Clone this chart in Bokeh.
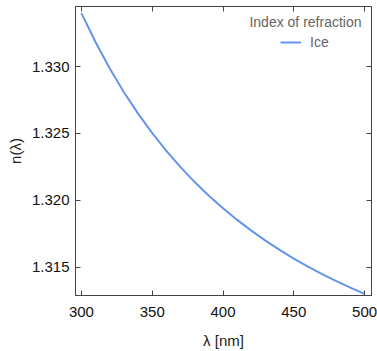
from bokeh.plotting import figure
from bokeh.models import (Range1d, LinearAxis, Legend, LegendItem, Label,
                          NumeralTickFormatter, CustomLabelingPolicy)
from bokeh.embed import file_html
from bokeh.resources import INLINE

wavelength_nm = [300, 310, 320, 330, 340, 350, 360, 370, 380, 390, 400,
                 410, 420, 430, 440, 450, 460, 470, 480, 490, 500]
n_ice = [1.33400, 1.33182, 1.32985, 1.32808, 1.32648, 1.32502, 1.32369,
         1.32248, 1.32136, 1.32034, 1.31940, 1.31853, 1.31773, 1.31698,
         1.31629, 1.31564, 1.31504, 1.31448, 1.31395, 1.31346, 1.31300]
x_ticks = [300, 350, 400, 450, 500]
y_ticks = [1.315, 1.320, 1.325, 1.330]

FONT = "Liberation Sans"
FRAME = "#444444"

p = figure(width=377, height=351, output_backend="svg", toolbar_location=None,
           x_range=Range1d(295.8, 504.9), y_range=Range1d(1.312875, 1.334494),
           min_border_left=75, min_border_right=4, min_border_top=6, min_border_bottom=53)
p.grid.visible = False
p.outline_line_color = FRAME
p.background_fill_color = "white"
p.border_fill_color = "white"

r = p.line(wavelength_nm, n_ice, line_color="#6495ED", line_width=2)

HIDE = CustomLabelingPolicy(code="""
const all = [...indices];
for (const i of all) { indices.unset(i); }
return indices;
""")

def style(ax, labels=True):
    ax.axis_line_color = FRAME
    ax.major_tick_line_color = FRAME
    ax.minor_tick_line_color = FRAME
    ax.major_tick_in = 5
    ax.major_tick_out = 0
    ax.minor_tick_in = 3
    ax.minor_tick_out = 0
    ax.ticker.num_minor_ticks = 5
    if labels:
        ax.major_label_text_font = FONT
        ax.major_label_text_font_size = "15px"
        ax.major_label_text_color = "#111111"
        ax.axis_label_text_font = FONT
        ax.axis_label_text_font_size = "15px"
        ax.axis_label_text_font_style = "normal"
        ax.axis_label_text_color = "#222222"
    else:
        ax.major_label_text_font_size = "1px"
        ax.major_label_standoff = 0
        ax.major_label_policy = HIDE

p.xaxis.ticker = x_ticks
p.yaxis.ticker = y_ticks
style(p.xaxis[0])
style(p.yaxis[0])
p.xaxis.ticker.num_minor_ticks = 5
p.yaxis.ticker.num_minor_ticks = 5
p.xaxis.major_label_standoff = 11
p.yaxis.major_label_standoff = 6
p.xaxis.axis_label_standoff = 12
p.xaxis.axis_label = "λ [nm]"
p.yaxis.axis_label = "n(λ)"
p.yaxis.formatter = NumeralTickFormatter(format="0.000")

top = LinearAxis(ticker=x_ticks)
top.ticker.num_minor_ticks = 5
style(top, labels=False)
right = LinearAxis(ticker=y_ticks)
right.ticker.num_minor_ticks = 5
style(right, labels=False)
p.add_layout(top, "above")
p.add_layout(right, "right")

legend = Legend(items=[LegendItem(label="Ice", renderers=[r])],
                location=(205, 243), padding=0, margin=0,
                glyph_width=21, label_standoff=9,
                label_text_font=FONT, label_text_font_size="14px",
                label_text_color="#666666",
                background_fill_alpha=0, border_line_color=None)
p.add_layout(legend)

title = Label(x=286, y=274, x_units="screen", y_units="screen",
              text="Index of refraction", text_align="right", text_baseline="middle",
              text_font=FONT, text_font_size="14px", text_color="#666666")
p.add_layout(title)

open("out.html", "w").write(file_html(p, INLINE))
